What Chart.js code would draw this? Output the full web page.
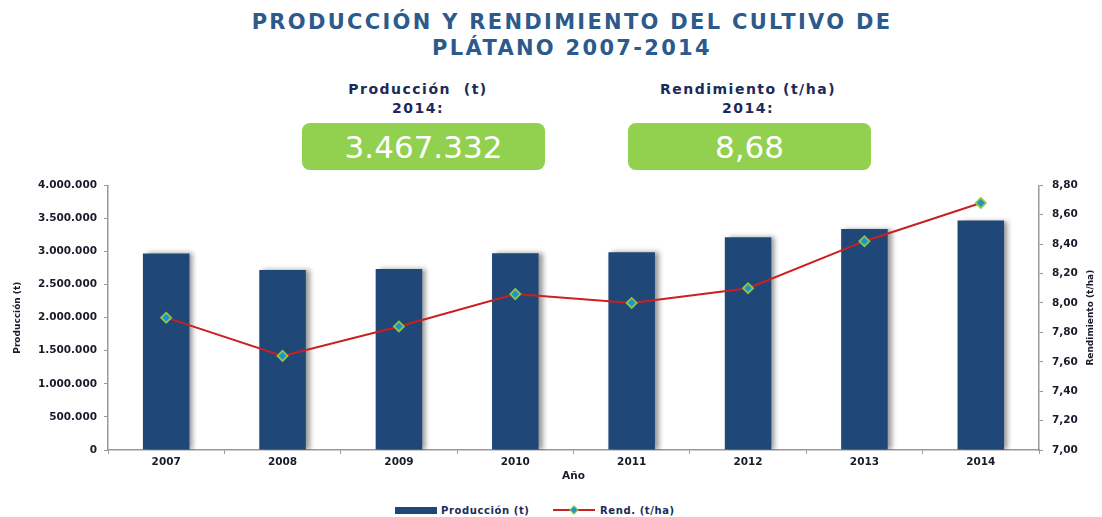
<!DOCTYPE html>
<html><head><meta charset="utf-8">
<script src="https://cdn.jsdelivr.net/npm/chart.js@4.4.1/dist/chart.umd.min.js"></script>
<style>
html,body{margin:0;padding:0;background:#fff;width:1102px;height:517px;overflow:hidden;position:relative;font-family:"DejaVu Sans",sans-serif;}
#title{position:absolute;top:9px;left:0;width:1144px;text-align:center;color:#2c5a8c;font-family:"DejaVu Sans",sans-serif;font-weight:bold;font-size:21px;line-height:26px;letter-spacing:2.3px;}
.lbl{position:absolute;text-align:center;color:#1c2a5a;font-family:"DejaVu Sans",sans-serif;font-weight:bold;font-size:14px;line-height:19px;width:280px;letter-spacing:1.5px;}
.box{position:absolute;top:123px;width:243px;height:47px;background:#92d050;border-radius:8px;color:#fff;font-family:"DejaVu Sans",sans-serif;font-size:31px;line-height:49px;text-align:center;}
#c{position:absolute;left:0;top:170px;}
#legend{position:absolute;top:504px;left:0;width:1102px;height:14px;font-family:"DejaVu Sans",sans-serif;font-weight:bold;font-size:10px;color:#1c2a5a;letter-spacing:0.6px;}
.li{position:absolute;top:0;display:flex;align-items:center;height:12px;}
</style></head>
<body>
<div id="title">PRODUCCIÓN Y RENDIMIENTO DEL CULTIVO DE<br>PLÁTANO 2007-2014</div>
<div class="lbl" style="left:278px;top:80px;">Producción&nbsp; (t)<br>2014:</div>
<div class="lbl" style="left:608px;top:80px;">Rendimiento (t/ha)<br>2014:</div>
<div class="box" style="left:302px;">3.467.332</div>
<div class="box" style="left:628px;">8,68</div>
<canvas id="c" width="1102" height="313"></canvas>
<div id="legend">
  <div class="li" style="left:395px;"><span style="display:inline-block;width:42px;height:7px;background:#1f4777;margin-right:4px;"></span>Producción (t)</div>
  <div class="li" style="left:553px;"><svg width="42" height="10" style="margin-right:5px;"><line x1="0" y1="5" x2="42" y2="5" stroke="#cc1f1f" stroke-width="2"/><polygon points="21,1 25,5 21,9 17,5" fill="#1e90d6" stroke="#8dc63f" stroke-width="1.2"/></svg>Rend. (t/ha)</div>
</div>
<script>
const years = ["2007","2008","2009","2010","2011","2012","2013","2014"];
const produccion = [2970000, 2720000, 2735000, 2975000, 2990000, 3215000, 3340000, 3467332];
const rendimiento = [7.90, 7.64, 7.84, 8.06, 8.00, 8.10, 8.42, 8.68];

const fmtInt = v => Math.round(v).toString().replace(/\B(?=(\d{3})+(?!\d))/g, ".");
const fmtDec = v => v.toFixed(2).replace(".", ",");
const tickFont = {family:"DejaVu Sans", weight:"bold", size:10.5};
const txt = "#1a1a2a";

const shadowPlugin = {
  id:'barShadow',
  beforeDatasetDraw(chart, args){
    if(args.index===1){const c=chart.ctx;c.save();c.shadowColor='rgba(0,0,0,0.4)';c.shadowBlur=5;c.shadowOffsetX=4;c.shadowOffsetY=0;}
  },
  afterDatasetDraw(chart, args){ if(args.index===1){chart.ctx.restore();} }
};
const rightTitle = {
  id:'rightTitle',
  afterDraw(chart){
    const s = chart.scales.y2; const c = chart.ctx;
    c.save();
    c.translate(1091, (s.top+s.bottom)/2);
    c.rotate(-Math.PI/2);
    c.font = "bold 9px 'DejaVu Sans'";
    c.fillStyle = txt; c.textAlign='center'; c.textBaseline='middle';
    c.fillText("Rendimiento (t/ha)",0,0);
    c.restore();
  }
};

new Chart(document.getElementById('c'), {
  data:{
    labels: years,
    datasets:[
      {type:'line', label:'Rend. (t/ha)', data: rendimiento, yAxisID:'y2', borderColor:'#cc1f1f', borderWidth:2,
       pointStyle:'rectRot', pointRadius:5, pointBackgroundColor:'#1e90d6', pointBorderColor:'#8dc63f', pointBorderWidth:1.8, tension:0, order:0},
      {type:'bar', label:'Producción (t)', data: produccion, yAxisID:'y', backgroundColor:'#1f4777', barPercentage:0.8, categoryPercentage:0.5, order:1}
    ]
  },
  options:{
    responsive:false, animation:false,
    layout:{padding:{top:15,right:0,bottom:0,left:0}},
    plugins:{legend:{display:false}, tooltip:{enabled:false}},
    scales:{
      x:{
        offset:true,
        grid:{display:true, drawOnChartArea:false, offset:true, color:'#999', tickLength:4},
        border:{color:'#999', width:1.5},
        ticks:{font:tickFont, color:txt, padding:2},
        title:{display:true, text:'Año', font:tickFont, color:txt, padding:{top:0,bottom:0}},
        afterFit(s){s.height=33;}
      },
      y:{
        position:'left', min:0, max:4000000,
        ticks:{stepSize:500000, font:tickFont, color:txt, callback:v=>fmtInt(v), padding:7},
        grid:{display:true, drawOnChartArea:false, color:'#999', tickLength:4},
        border:{color:'#999', width:1.5},
        title:{display:true, text:'Producción (t)', font:{family:"DejaVu Sans", weight:"bold", size:9}, color:txt, padding:{top:12,bottom:0}},
        afterFit(s){s.width=108;}
      },
      y2:{
        position:'right', min:7, max:8.8,
        ticks:{stepSize:0.2, font:tickFont, color:txt, callback:v=>fmtDec(v), padding:9},
        grid:{display:true, drawOnChartArea:false, color:'#999', tickLength:4},
        border:{color:'#999', width:1.5},
        afterFit(s){s.width=63;}
      }
    }
  },
  plugins:[shadowPlugin, rightTitle]
});
</script>
</body></html>
